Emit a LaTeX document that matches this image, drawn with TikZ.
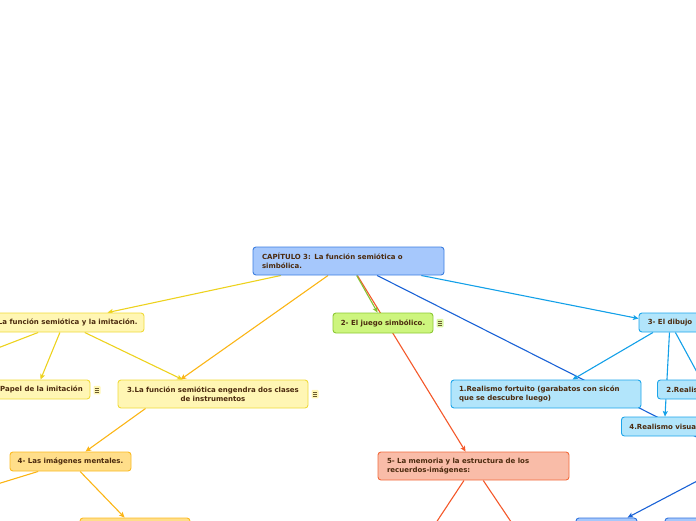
\documentclass[tikz,border=0pt]{standalone}
\usepackage{fontspec}
\setmainfont{DejaVu Sans}
\usetikzlibrary{calc,arrows.meta}
\definecolor{txt}{HTML}{4B2A0E}
\definecolor{mainfill}{HTML}{A6C8FC}
\definecolor{maindraw}{HTML}{3C7EE0}
\definecolor{yfill}{HTML}{FFF6B4}
\definecolor{ydraw}{HTML}{F0DA3A}
\definecolor{ofill}{HTML}{FFDE8A}
\definecolor{odraw}{HTML}{FBBA22}
\definecolor{gfill}{HTML}{CDF57E}
\definecolor{gdraw}{HTML}{8CC834}
\definecolor{cfill}{HTML}{B2E5FB}
\definecolor{cdraw}{HTML}{1DA5EA}
\definecolor{rfill}{HTML}{F9BCA8}
\definecolor{rdraw}{HTML}{F26B3D}
\definecolor{bdraw}{HTML}{2F72DC}
\definecolor{lYel}{HTML}{EDD21E}
\definecolor{lOra}{HTML}{FBB516}
\definecolor{lGrn}{HTML}{86C232}
\definecolor{lRed}{HTML}{F4582A}
\definecolor{lCya}{HTML}{13A0E8}
\definecolor{lBlu}{HTML}{1A62D6}
\definecolor{icondark}{HTML}{6A5A30}
\pgfdeclarelayer{bg}
\pgfsetlayers{bg,main}
\tikzset{
  box/.style={draw, rounded corners=3pt, line width=0.9pt, inner xsep=0pt, inner ysep=0pt,
    text=txt, font=\fontsize{7pt}{8.5pt}\selectfont\bfseries},
  conn/.style={line width=1.1pt},
  arr/.style={-{Stealth[length=5.5pt,width=5pt,inset=1.2pt]}},
  menuicon/.style={rectangle, rounded corners=1pt, minimum width=7pt, minimum height=8.5pt, inner sep=0pt,
    path picture={
      \foreach \dy in {-2.2,0,2.2}{
        \draw[line width=0.6pt, icondark] ($(path picture bounding box.center)+(-2.3,\dy)$) -- ++(4.6,0);
      }
    }}
}
\begin{document}
\begin{tikzpicture}[x=1pt,y=-1pt]
\useasboundingbox (0,0) rectangle (696,520);
\clip (0,0) rectangle (696,520);

% nodes
\node[box, fill=mainfill, draw=maindraw, minimum width=191pt, minimum height=28pt, text width=173pt, align=left]
  (main) at (348.5,261) {CAPÍTULO 3: La función semiótica o\\simbólica.};
\node[box, fill=yfill, draw=ydraw, minimum width=160pt, minimum height=19pt]
  (n1) at (64,322.5) {1.La función semiótica y la imitación.};
\node[box, fill=yfill, draw=ydraw, minimum width=97pt, minimum height=19pt]
  (papel) at (41.5,389.5) {Papel de la imitación};
\node[box, fill=yfill, draw=ydraw, minimum width=190pt, minimum height=28pt, text width=180pt, align=center]
  (n3) at (213,394) {3.La función semiótica engendra dos clases\\de instrumentos};
\node[box, fill=ofill, draw=odraw, minimum width=121pt, minimum height=19pt]
  (n4) at (70.5,461.5) {4- Las imágenes mentales.};
\node[box, fill=ofill, draw=odraw, minimum width=110pt, minimum height=28pt]
  (n4b) at (135,532) {};
\node[box, fill=gfill, draw=gdraw, minimum width=100pt, minimum height=20pt]
  (juego) at (383,323) {2- El juego simbólico.};
\node[box, fill=cfill, draw=cdraw, minimum width=62pt, minimum height=19pt]
  (dibujo) at (670,322.5) {3- El dibujo};
\node[box, fill=cfill, draw=cdraw, minimum width=190pt, minimum height=28pt, text width=174pt, align=left]
  (r1) at (546,394) {1.Realismo fortuito (garabatos con sicón\\que se descubre luego)};
\node[box, fill=cfill, draw=cdraw, minimum height=19pt, inner xsep=9pt, anchor=west]
  (r2) at (657,389.5) {2.Realismo fallido};
\node[box, fill=cfill, draw=cdraw, minimum height=19pt, inner xsep=8pt, anchor=west]
  (r4) at (621,426.5) {4.Realismo visual};
\node[box, fill=rfill, draw=rdraw, minimum width=191pt, minimum height=28pt, text width=173pt, align=left]
  (m5) at (473.5,466) {5- La memoria y la estructura de los\\recuerdos-imágenes:};
\node[box, fill=mainfill, draw=bdraw, minimum width=61pt, minimum height=28pt]
  (b1) at (606.5,532) {};
\node[box, fill=mainfill, draw=bdraw, minimum width=80pt, minimum height=28pt]
  (b2) at (705,532) {};

% menu icons
\node[menuicon, fill=yfill] (ic1) at (97,390) {};
\node[menuicon, fill=yfill] (ic2) at (315,394) {};
\node[menuicon, fill=gfill!70!white] (ic3) at (440,323) {};

% off-screen ends
\coordinate (off1) at (760,469);
\coordinate (off2) at (723,420);
\coordinate (off3) at (-40,362.6);
\coordinate (off4) at (-40,495.5);
\coordinate (off5) at (420,547);
\coordinate (off6) at (528,547);
\coordinate (off7) at (760,448);

\begin{pgfonlayer}{bg}
\draw[conn, lRed, arr] (main) -- ($(m5.north west)+(88,0)$);
\draw[conn, lGrn, arr] (main) -- ($(juego.north west)+(45,0)$);
\draw[conn, lYel, arr] (main) -- ($(n1.north west)+(124,0)$);
\draw[conn, lOra, arr] (main) -- ($(n3.north west)+(63,0)$);
\draw[conn, lBlu] (main) -- (off1);
\draw[conn, lCya, arr] (main) -- ($(dibujo.north west)+(0,6)$);
\draw[conn, lCya, arr] (dibujo) -- ($(r1.north west)+(122,0)$);
\draw[conn, lCya, arr] (dibujo) -- ($(r4.north west)+(44,0)$);
\draw[conn, lCya] (dibujo) -- (off2);
\draw[conn, lYel, arr] (n1) -- ($(papel.north west)+(48,0)$);
\draw[conn, lYel, arr] (n1) -- ($(n3.north west)+(65,0)$);
\draw[conn, lYel] (n1) -- (off3);
\draw[conn, lOra, arr] ($(n3.south west)+(28,0)$) -- ($(n4.north west)+(76,0)$);
\draw[conn, lOra] (n4) -- (off4);
\draw[conn, lOra, arr] (n4) -- ($(n4b.north west)+(45,0)$);
\draw[conn, lRed] (m5) -- (off5);
\draw[conn, lRed] (m5) -- (off6);
\draw[conn, lBlu, arr] (off7) -- ($(b1.north west)+(52,0)$);
\end{pgfonlayer}
\end{tikzpicture}
\end{document}
